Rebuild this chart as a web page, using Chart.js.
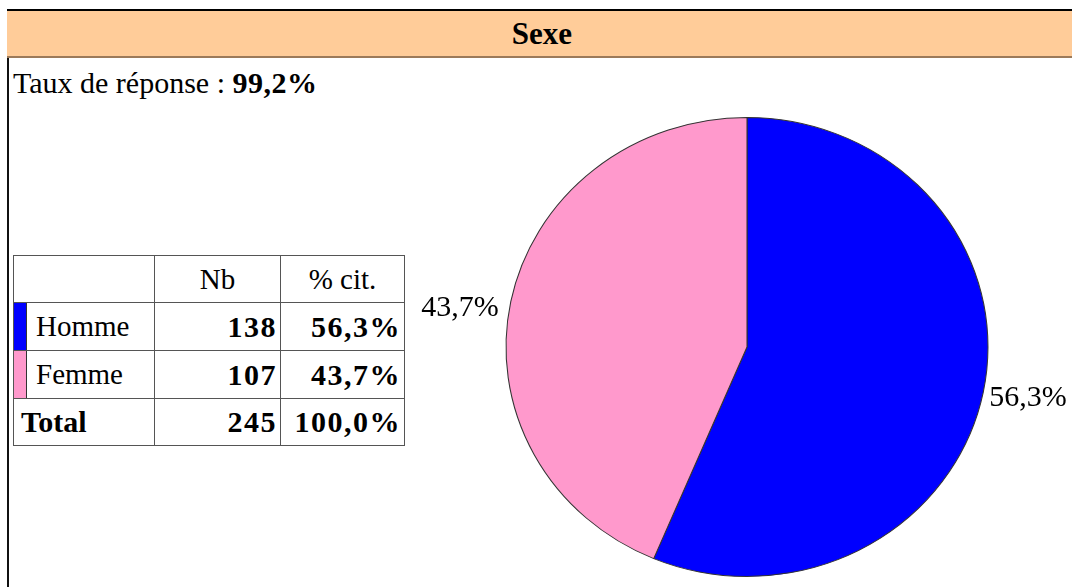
<!DOCTYPE html>
<html>
<head>
<meta charset="utf-8">
<script src="https://cdn.jsdelivr.net/npm/chart.js@4.4.1/dist/chart.umd.min.js"></script>
<style>
  html, body { margin: 0; padding: 0; background: #fff; }
  body { width: 1072px; height: 587px; position: relative; overflow: hidden;
         font-family: 'Liberation Serif', 'DejaVu Serif', 'Times New Roman', serif; color: #000; }
  #header { position: absolute; left: 7px; top: 9px; width: 1070px; height: 45px;
            background: #FFCC99; border-top: 2px solid #000; border-bottom: 2px solid #9c7a5a;
            text-align: center; font-weight: bold; font-size: 31px; line-height: 45px; }
  #leftLine { position: absolute; left: 7px; top: 9px; width: 2px; height: 600px; background: #111; }
  #rate { position: absolute; left: 13px; top: 64px; font-size: 30px; line-height: 38px; }
  #rate b { letter-spacing: 0.5px; }
  #tbl { position: absolute; left: 13px; top: 255px; border-collapse: collapse; font-size: 29px;
         font-family: 'Liberation Serif', 'DejaVu Serif', serif; }
  #tbl td { border: 1px solid #555; padding: 0 5px; height: 47px; box-sizing: border-box; vertical-align: middle; }
  #tbl td.num { text-align: right; font-weight: bold; font-size: 30px; letter-spacing: 1.5px; padding-right: 3px; }
  #tbl td.tot { font-weight: bold; font-size: 30px; padding-left: 7px; }
  #tbl td.hd { text-align: center; }
  #tbl td.lab { padding: 0; }
  .labIn { display: flex; align-items: center; height: 47px; }
  .sw { width: 12px; height: 47px; border-right: 1px solid #333; margin-right: 9px; flex: none; }
  #pieBox { position: absolute; left: 400px; top: 100px; width: 672px; height: 487px; }
</style>
</head>
<body>
<div id="leftLine"></div>
<div id="header">Sexe</div>
<div id="rate">Taux de réponse : <b>99,2%</b></div>
<table id="tbl"></table>
<div id="pieBox"><canvas id="pie"></canvas></div>

<script>
// ─── Data ─────────────────────────────────────────────────────────────────────
const categories = ["Homme", "Femme"];
const counts     = [138, 107];
const percents   = ["56,3%", "43,7%"];
const colors     = ["#0000FF", "#FF99CC"];
const totalCount = 245;
const totalPct   = "100,0%";
const colHeaders = ["Nb", "% cit."];

// ─── Table ────────────────────────────────────────────────────────────────────
const tbl = document.getElementById("tbl");
let html = `<tr><td style="width:141px"></td><td class="hd" style="width:126px">${colHeaders[0]}</td>` +
           `<td class="hd" style="width:124px">${colHeaders[1]}</td></tr>`;
categories.forEach((c, i) => {
  html += `<tr><td class="lab"><div class="labIn"><span class="sw" style="background:${colors[i]}"></span>${c}</div></td>` +
          `<td class="num">${counts[i]}</td><td class="num">${percents[i]}</td></tr>`;
});
html += `<tr><td class="tot">Total</td><td class="num">${totalCount}</td><td class="num">${totalPct}</td></tr>`;
tbl.innerHTML = html;
tbl.rows[3].cells[0].style.height = "45px";

// ─── Ellipse stretch for the pie only (labels stay unscaled) ─────────────────
const SX = 1.05;
const stretch = {
  id: "stretch",
  beforeDatasetsDraw(chart) {
    const a = chart.getDatasetMeta(0).data[0];
    const ctx = chart.ctx;
    ctx.save();
    ctx.translate(a.x, a.y);
    ctx.scale(SX, 1);
    ctx.translate(-a.x, -a.y);
  },
  afterDatasetsDraw(chart) { chart.ctx.restore(); }
};

// ─── Outside labels ───────────────────────────────────────────────────────────
const outLabels = {
  id: "outLabels",
  afterDraw(chart) {
    const ctx = chart.ctx;
    ctx.save();
    ctx.font = "30px 'Liberation Serif', 'DejaVu Serif', serif";
    ctx.fillStyle = "#000";
    ctx.textBaseline = "middle";
    chart.getDatasetMeta(0).data.forEach((arc, i) => {
      const mid = (arc.startAngle + arc.endAngle) / 2;
      const r = arc.outerRadius;
      const cx = Math.cos(mid), cy = Math.sin(mid);
      const x = arc.x + cx * r * SX + (cx >= 0 ? 6 : -12);
      const y = arc.y + cy * r + 6;
      ctx.textAlign = cx >= 0 ? "left" : "right";
      ctx.fillText(percents[i], x, y);
    });
    ctx.restore();
  }
};

new Chart(document.getElementById("pie"), {
  type: "pie",
  data: {
    labels: categories,
    datasets: [{
      data: counts,
      backgroundColor: colors,
      borderColor: "#333",
      borderWidth: 1
    }]
  },
  options: {
    responsive: true,
    maintainAspectRatio: false,
    animation: false,
    layout: { padding: { left: 117, right: 95, top: 17, bottom: 10 } },
    plugins: {
      legend: { display: false },
      tooltip: { enabled: false }
    }
  },
  plugins: [stretch, outLabels]
});
</script>
</body>
</html>
